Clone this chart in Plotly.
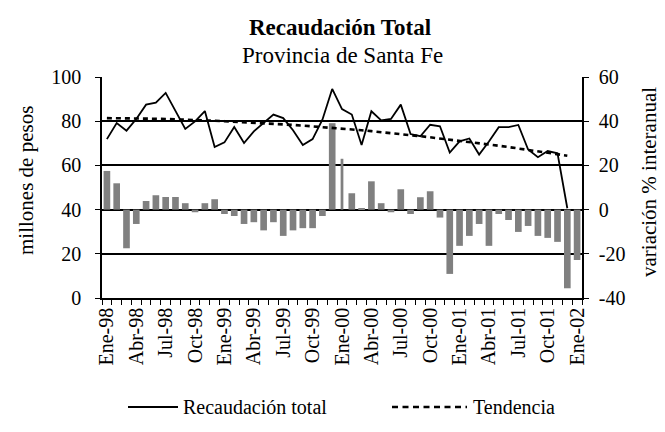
import plotly.graph_objects as go

# Monthly periods, January 1998 to January 2002
meses = ["Ene", "Feb", "Mar", "Abr", "May", "Jun", "Jul", "Ago", "Sep", "Oct", "Nov", "Dic"]
anios = ["98", "99", "00", "01", "02"]
periodos = [f"{m}-{a}" for a in anios for m in meses][:49]

# Total tax collection, millions of pesos (left axis)
recaudacion = [
    71.9, 79.2, 75.7, 81.0, 87.5, 88.4, 92.8, 84.6, 76.5, 79.9, 84.6, 68.3,
    70.4, 77.4, 70.1, 75.4, 79.2, 83.0, 81.4, 75.9, 69.2, 71.9, 80.7, 94.6,
    85.5, 83.0, 69.2, 84.5, 80.4, 81.0, 87.5, 74.2, 73.2, 78.4, 77.7, 65.8,
    70.9, 72.2, 64.9, 70.8, 77.3, 77.3, 78.3, 67.2, 63.7, 66.5, 65.5, 40.6,
    None,
]

# Trend of total collection, millions of pesos (left axis)
tendencia = [
    81.4, 81.4, 81.3, 81.3, 81.2, 81.1, 81.0, 80.9, 80.7, 80.6, 80.4, 80.2,
    80.0, 79.8, 79.6, 79.4, 79.1, 78.9, 78.6, 78.3, 78.0, 77.7, 77.3, 77.0,
    76.6, 76.3, 75.9, 75.5, 75.1, 74.6, 74.2, 73.7, 73.2, 72.7, 72.2, 71.7,
    71.2, 70.6, 70.1, 69.5, 68.9, 68.3, 67.7, 67.1, 66.4, 65.8, 65.1, 64.4,
    None,
]

# Year-on-year change, percent (right axis)
variacion = [
    17.5, 11.9, -17.5, -6.5, 3.9, 6.5, 5.7, 5.7, 2.9, -1.2, 2.9, 4.7,
    -2.0, -2.9, -6.5, -5.7, -9.4, -5.7, -11.9, -9.4, -8.4, -8.4, -2.9, 39.1,
    23.0, 7.4, 0.3, 12.8, 2.9, -1.2, 9.2, -2.0, 5.6, 8.3, -3.6, -29.1,
    -16.4, -11.9, -6.5, -16.4, -2.0, -4.7, -10.1, -7.4, -11.9, -12.8, -14.6, -35.6,
    -22.8,
]

# Axis tick labels
etiquetas_x = [p if i % 3 == 0 else "" for i, p in enumerate(periodos)]
ticks_izq = [0, 20, 40, 60, 80, 100]
ticks_der = [-40, -20, 0, 20, 40, 60]
textos_der = ["-40", "-20", "0", "20", "40", "60"]

FUENTE = "Liberation Serif"
GRIS = "#808080"

anchos = [0.68] * len(periodos)
anchos[24] = 0.28

fig = go.Figure()

fig.add_trace(go.Bar(
    x=periodos, y=variacion, yaxis="y",
    marker=dict(color=GRIS, line=dict(width=0)),
    width=anchos, showlegend=False, name="Variación % interanual",
))
fig.add_trace(go.Scatter(
    x=periodos, y=recaudacion, yaxis="y2", mode="lines",
    line=dict(color="black", width=1.8), showlegend=False,
    name="Recaudación total",
))
fig.add_trace(go.Scatter(
    x=periodos, y=tendencia, yaxis="y2", mode="lines",
    line=dict(color="black", width=2.6, dash="5px,4px"), showlegend=False,
    name="Tendencia",
))

# Plot area in pixels, used to place free text and legend in paper units
L, R, T, B = 102, 582, 77, 298


def px_x(x):
    return (x - L) / (R - L)


def px_y(y):
    return (B - y) / (B - T)


fig.update_layout(
    width=665, height=432, autosize=False,
    margin=dict(l=L, r=665 - R, t=T, b=432 - B, pad=0),
    paper_bgcolor="white", plot_bgcolor="white",
    font=dict(family=FUENTE, color="black", size=20),
    bargap=0.3,
    xaxis=dict(
        type="category", categoryorder="array", categoryarray=periodos,
        range=[-0.5, len(periodos) - 0.5],
        tickvals=periodos, ticktext=etiquetas_x, tickangle=-90,
        tickson="boundaries", ticks="outside", ticklen=5, tickwidth=1.3,
        tickcolor="black", showline=True, linecolor="black", linewidth=1.5,
        showgrid=False, zeroline=False, tickfont=dict(size=20, family=FUENTE),
    ),
    yaxis=dict(
        side="right", range=[-40, 60], tickvals=ticks_der, ticktext=textos_der,
        ticks="outside", ticklen=5, tickwidth=1.3, tickcolor="black",
        showline=True, linecolor="black", linewidth=1.5,
        showgrid=True, gridcolor="black", gridwidth=1.5, zeroline=False,
        tickfont=dict(size=20, family=FUENTE), ticklabelstandoff=6,
    ),
    yaxis2=dict(
        overlaying="y", side="left", range=[0, 100], tickvals=ticks_izq,
        ticks="outside", ticklen=5, tickwidth=1.3, tickcolor="black",
        showline=True, linecolor="black", linewidth=1.5,
        showgrid=False, zeroline=False,
        tickfont=dict(size=20, family=FUENTE), ticklabelstandoff=10,
    ),
)

anotaciones = [
    dict(text="<b>Recaudación Total</b>", x=px_x(340), y=px_y(28),
         font=dict(size=23, family=FUENTE)),
    dict(text="Provincia de Santa Fe", x=px_x(342), y=px_y(56),
         font=dict(size=23, family=FUENTE)),
    dict(text="millones de pesos", x=px_x(26), y=px_y(181), textangle=-90,
         font=dict(size=21, family=FUENTE)),
    dict(text="variación % interanual", x=px_x(649), y=px_y(182), textangle=-90,
         font=dict(size=21, family=FUENTE)),
    dict(text="Recaudación total", x=px_x(181), y=px_y(407), xanchor="left",
         font=dict(size=20, family=FUENTE)),
    dict(text="Tendencia", x=px_x(471), y=px_y(407), xanchor="left",
         font=dict(size=20, family=FUENTE)),
]
for a in anotaciones:
    a.setdefault("xanchor", "center")
    fig.add_annotation(xref="paper", yref="paper", yanchor="middle",
                       showarrow=False, **a)

# Legend keys
fig.add_shape(type="line", xref="paper", yref="paper",
              x0=px_x(128), x1=px_x(178), y0=px_y(407), y1=px_y(407),
              line=dict(color="black", width=1.8))
fig.add_shape(type="line", xref="paper", yref="paper",
              x0=px_x(392), x1=px_x(467), y0=px_y(407), y1=px_y(407),
              line=dict(color="black", width=2.6, dash="6px,4.5px"))

fig.write_html("out.html")
